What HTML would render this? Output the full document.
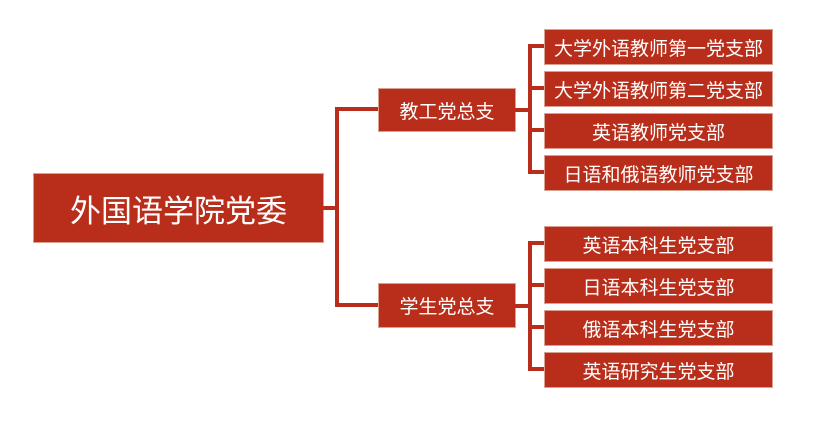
<!DOCTYPE html>
<html><head><meta charset="utf-8"><style>
body{margin:0;width:813px;height:432px;background:#fff;position:relative;overflow:hidden;font-family:"Liberation Sans","Noto Sans CJK SC",sans-serif}
.b{position:absolute;background:#b82e1b;color:#fff;display:flex;align-items:center;justify-content:center;border:1px solid #d9a090;box-sizing:border-box;white-space:nowrap}
.l{position:absolute;background:#b82e1b}
.leaf{left:544px;width:229px;height:36px;font-size:19px}
</style></head><body>
<div class="b" style="left:33px;top:173px;width:291px;height:70px;font-size:31px">外国语学院党委</div>
<div class="l" style="left:323px;top:206px;width:15px;height:4px"></div>
<div class="l" style="left:335px;top:107px;width:4px;height:200px"></div>
<div class="l" style="left:335px;top:107px;width:44px;height:4px"></div>
<div class="l" style="left:335px;top:303px;width:44px;height:4px"></div>
<div class="b" style="left:378px;top:88px;width:138px;height:44px;font-size:19px">教工党总支</div>
<div class="b" style="left:378px;top:283px;width:138px;height:45px;font-size:19px">学生党总支</div>
<div class="l" style="left:515px;top:108px;width:16px;height:4px"></div>
<div class="l" style="left:515px;top:304px;width:16px;height:4px"></div>
<div class="l" style="left:528px;top:44px;width:4px;height:130px"></div>
<div class="l" style="left:528px;top:241px;width:4px;height:130px"></div>
<div class="l" style="left:528px;top:44px;width:17px;height:4px"></div>
<div class="l" style="left:528px;top:86px;width:17px;height:4px"></div>
<div class="l" style="left:528px;top:128px;width:17px;height:4px"></div>
<div class="l" style="left:528px;top:170px;width:17px;height:4px"></div>
<div class="l" style="left:528px;top:241px;width:17px;height:4px"></div>
<div class="l" style="left:528px;top:283px;width:17px;height:4px"></div>
<div class="l" style="left:528px;top:325px;width:17px;height:4px"></div>
<div class="l" style="left:528px;top:367px;width:17px;height:4px"></div>
<div class="b leaf" style="top:29px">大学外语教师第一党支部</div>
<div class="b leaf" style="top:71px">大学外语教师第二党支部</div>
<div class="b leaf" style="top:113px">英语教师党支部</div>
<div class="b leaf" style="top:155px">日语和俄语教师党支部</div>
<div class="b leaf" style="top:226px">英语本科生党支部</div>
<div class="b leaf" style="top:268px">日语本科生党支部</div>
<div class="b leaf" style="top:310px">俄语本科生党支部</div>
<div class="b leaf" style="top:352px">英语研究生党支部</div>
</body></html>
